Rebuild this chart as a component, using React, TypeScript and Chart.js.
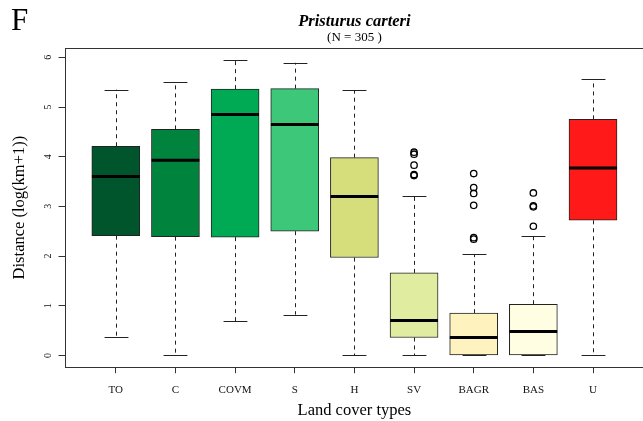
import React, { useEffect, useRef } from "react";
import { Chart, registerables } from "chart.js";

Chart.register(...registerables);

const categories = ["TO", "C", "COVM", "S", "H", "SV", "BAGR", "BAS", "U"];
const whiskerLow = [0.37, 0, 0.69, 0.82, 0, 0, 0, 0, 0];
const q1 = [2.41, 2.39, 2.38, 2.5, 1.97, 0.36, 0, 0, 2.72];
const median = [3.6, 3.93, 4.85, 4.65, 3.2, 0.7, 0.36, 0.48, 3.77];
const q3 = [4.21, 4.55, 5.36, 5.37, 3.98, 1.66, 0.85, 1.03, 4.75];
const whiskerHigh = [5.35, 5.5, 5.95, 5.89, 5.34, 3.21, 2.04, 2.41, 5.56];
const boxColors = ["#00552C", "#00843D", "#00AA55", "#3CC878", "#D6DE7C", "#E0EDA0", "#FEF3BE", "#FFFDE2", "#FF1919"];
const outlierCategory = ["SV", "SV", "SV", "SV", "SV", "BAGR", "BAGR", "BAGR", "BAGR", "BAGR", "BAGR", "BAS", "BAS", "BAS", "BAS"];
const outlierValue = [4.09, 4.05, 3.83, 3.64, 3.62, 3.66, 3.38, 3.26, 3.02, 2.37, 2.34, 3.27, 3.01, 2.99, 2.6];
const yTicks = [0, 1, 2, 3, 4, 5, 6];

const SERIF = "'Liberation Serif', 'DejaVu Serif', serif";

const boxplotPlugin = {
  id: "boxplotExtras",
  beforeDatasetsDraw(chart: any) {
    const { ctx, scales } = chart;
    const xs = scales.x;
    const ys = scales.y;
    ctx.save();
    ctx.strokeStyle = "#222";
    ctx.lineWidth = 1;
    categories.forEach((_, i) => {
      const cx = Math.round(xs.getPixelForValue(i + 1)) + 0.5;
      const half = xs.getPixelForValue(1.2) - xs.getPixelForValue(1);
      ctx.setLineDash([4, 4]);
      ctx.beginPath();
      ctx.moveTo(cx, ys.getPixelForValue(q3[i]));
      ctx.lineTo(cx, ys.getPixelForValue(whiskerHigh[i]));
      ctx.moveTo(cx, ys.getPixelForValue(q1[i]));
      ctx.lineTo(cx, ys.getPixelForValue(whiskerLow[i]));
      ctx.stroke();
      ctx.setLineDash([]);
      ctx.beginPath();
      const yh = Math.round(ys.getPixelForValue(whiskerHigh[i])) + 0.5;
      const yl = Math.round(ys.getPixelForValue(whiskerLow[i])) + 0.5;
      ctx.moveTo(cx - half, yh);
      ctx.lineTo(cx + half, yh);
      ctx.moveTo(cx - half, yl);
      ctx.lineTo(cx + half, yl);
      ctx.stroke();
    });
    ctx.restore();
  },
  afterDatasetsDraw(chart: any) {
    const { ctx, scales } = chart;
    const xs = scales.x;
    const ys = scales.y;
    ctx.save();
    ctx.strokeStyle = "#000";
    ctx.lineWidth = 3;
    categories.forEach((_, i) => {
      const x0 = xs.getPixelForValue(i + 1 - 0.4);
      const x1 = xs.getPixelForValue(i + 1 + 0.4);
      const y = ys.getPixelForValue(median[i]);
      ctx.beginPath();
      ctx.moveTo(x0, y);
      ctx.lineTo(x1, y);
      ctx.stroke();
    });
    ctx.restore();
  },
  afterDraw(chart: any) {
    const { ctx, chartArea } = chart;
    ctx.save();
    ctx.strokeStyle = "#333";
    ctx.lineWidth = 1;
    ctx.strokeRect(
      Math.round(chartArea.left) + 0.5,
      Math.round(chartArea.top) + 0.5,
      Math.round(chartArea.right - chartArea.left),
      Math.round(chartArea.bottom - chartArea.top)
    );
    const cx = (chartArea.left + chartArea.right) / 2;
    const cy = (chartArea.top + chartArea.bottom) / 2;
    ctx.fillStyle = "#000";
    ctx.textAlign = "center";
    ctx.textBaseline = "middle";
    ctx.font = `italic bold 16.5px ${SERIF}`;
    ctx.fillText("Pristurus carteri", cx, 22);
    ctx.font = `13px ${SERIF}`;
    ctx.fillText("(N = 305 )", cx, 37.5);
    ctx.font = `16.5px ${SERIF}`;
    ctx.fillText("Land cover types", cx, 411);
    ctx.save();
    ctx.translate(19.5, cy);
    ctx.rotate(-Math.PI / 2);
    ctx.fillText("Distance (log(km+1))", 0, 0);
    ctx.restore();
    ctx.textAlign = "left";
    ctx.textBaseline = "alphabetic";
    ctx.font = `31px ${SERIF}`;
    ctx.fillText("F", 11, 30);
    ctx.restore();
  },
};

export default function App() {
  const ref = useRef<HTMLCanvasElement | null>(null);
  useEffect(() => {
    if (!ref.current) return;
    const boxData = categories.map((_, i) => ({ x: i + 1, y: [q1[i], q3[i]] }));
    const outlierData = outlierCategory.map((c, i) => ({ x: categories.indexOf(c) + 1, y: outlierValue[i] }));
    const chart = new Chart(ref.current, {
      type: "bar",
      data: {
        datasets: [
          {
            type: "bar",
            label: "Boxes",
            data: boxData as any,
            backgroundColor: boxColors,
            borderColor: "#222",
            borderWidth: 1,
            borderSkipped: false,
            barThickness: 48,
            grouped: false,
          } as any,
          {
            type: "scatter",
            label: "Outliers",
            data: outlierData as any,
            pointStyle: "circle",
            pointRadius: 3.2,
            pointBackgroundColor: "rgba(255,255,255,0)",
            pointBorderColor: "#000",
            pointBorderWidth: 1.3,
          } as any,
        ],
      },
      options: {
        animation: false,
        responsive: false,
        devicePixelRatio: 1,
        layout: { padding: { left: 0, top: 48, right: 15.7, bottom: 0 } },
        plugins: { legend: { display: false }, tooltip: { enabled: false }, title: { display: false } },
        scales: {
          x: {
            type: "linear",
            min: 0.14,
            max: 9.86,
            offset: false,
            afterFit: (s: any) => { s.height = 53.8; },
            afterBuildTicks: (s: any) => { s.ticks = categories.map((_, i) => ({ value: i + 1 })); },
            grid: { offset: false, drawOnChartArea: false, drawTicks: true, tickLength: 6, color: "#333", lineWidth: 1 },
            border: { display: false },
            ticks: {
              autoSkip: false,
              maxRotation: 0,
              minRotation: 0,
              padding: 10,
              color: "#111",
              font: { family: SERIF, size: 11 },
              callback: (v: any) => categories[Math.round(Number(v)) - 1] ?? "",
            },
          },
          y: {
            type: "linear",
            min: -0.238,
            max: 6.188,
            afterFit: (s: any) => { s.width = 64.5; },
            afterBuildTicks: (s: any) => { s.ticks = yTicks.map((v) => ({ value: v })); },
            grid: { drawOnChartArea: false, drawTicks: true, tickLength: 6, color: "#333", lineWidth: 1 },
            border: { display: false },
            ticks: {
              minRotation: 90,
              maxRotation: 90,
              crossAlign: "center",
              padding: 8,
              color: "#111",
              font: { family: SERIF, size: 10 },
              callback: (v: any) => String(v),
            },
          },
        },
      } as any,
      plugins: [boxplotPlugin],
    });
    return () => chart.destroy();
  }, []);
  return (
    <div style={{ position: "absolute", left: 0, top: 0, width: 643, height: 421, overflow: "hidden", background: "#fff" }}>
      <canvas ref={ref} width={660} height={421} style={{ display: "block", width: 660, height: 421 }} />
    </div>
  );
}
